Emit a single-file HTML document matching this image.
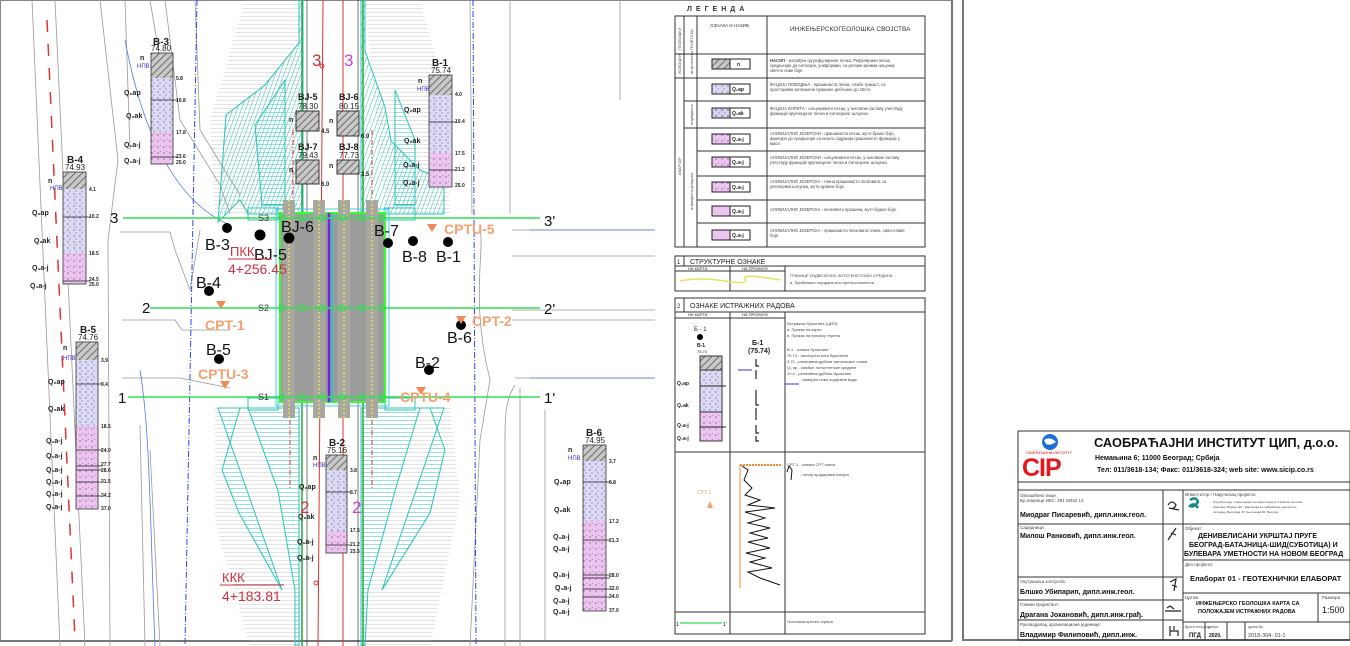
<!DOCTYPE html>
<html><head><meta charset="utf-8"><style>
html,body{margin:0;padding:0;background:#fff;}
svg{display:block;font-family:"Liberation Sans",sans-serif;}
.t{font-family:"Liberation Sans",sans-serif;}
</style></head><body>
<svg width="1350" height="646" viewBox="0 0 1350 646" xmlns="http://www.w3.org/2000/svg">
<defs>
<pattern id="hat" width="5" height="5" patternUnits="userSpaceOnUse" patternTransform="rotate(45)"><rect width="5" height="5" fill="#c8c8c8"/><line x1="0" y1="0" x2="0" y2="5" stroke="#555" stroke-width="1.6"/></pattern>
<pattern id="lav" width="6" height="6" patternUnits="userSpaceOnUse"><rect width="6" height="6" fill="#dcdaf4"/><circle cx="2" cy="2" r="0.6" fill="#446"/><line x1="3" y1="5" x2="5" y2="5" stroke="#668" stroke-width="0.5"/></pattern>
<pattern id="lav2" width="6" height="6" patternUnits="userSpaceOnUse"><rect width="6" height="6" fill="#d4d2f2"/><circle cx="2" cy="2" r="0.7" fill="#446"/><circle cx="5" cy="5" r="0.5" fill="#446"/></pattern>
<pattern id="pnk" width="6" height="6" patternUnits="userSpaceOnUse"><rect width="6" height="6" fill="#ecc4f0"/><circle cx="2" cy="3" r="0.6" fill="#636"/><line x1="4" y1="1" x2="5" y2="2" stroke="#636" stroke-width="0.4"/></pattern>
<pattern id="teal" width="4" height="4" patternUnits="userSpaceOnUse" patternTransform="rotate(20)"><line x1="0" y1="0" x2="0" y2="4" stroke="#2cc3b5" stroke-width="1"/></pattern>
<pattern id="tealh" width="4" height="4" patternUnits="userSpaceOnUse"><line x1="0" y1="0" x2="4" y2="0" stroke="#2cc3b5" stroke-width="1"/></pattern>
<pattern id="grh" width="6" height="4" patternUnits="userSpaceOnUse"><line x1="0" y1="0" x2="6" y2="0" stroke="#aaa" stroke-width="0.7"/></pattern>
</defs>

<rect x="0.5" y="0.5" width="951" height="640" fill="none" stroke="#888" stroke-width="1"/>
<line x1="952" y1="0" x2="952" y2="641" stroke="#777" stroke-width="2"/>
<line x1="963" y1="0" x2="963" y2="641" stroke="#777" stroke-width="2"/>
<line x1="963" y1="640" x2="1350" y2="640" stroke="#777" stroke-width="2"/>
<line x1="0" y1="641" x2="952" y2="641" stroke="#777" stroke-width="2"/>

<g stroke="#999" stroke-width="0.8" fill="none">
<path d="M32 0 L60 646"/><path d="M55 0 L85 646"/>
<path d="M100 0 L118 160 L108 240 L110 646"/>
<path d="M125 0 L130 150"/><path d="M150 0 L160 60"/>
<path d="M165 0 L180 120 L220 185 L230 214"/>
<path d="M195 0 L200 130 L240 195"/>
<path d="M120 232 L170 232 L175 250 L190 290 L200 230"/>
<path d="M122 320 L175 320 L182 330 L230 330"/><path d="M122 378 L180 378 L230 388"/>
<path d="M140 425 L145 646"/><path d="M150 450 L160 646"/>
<path d="M510 0 L510 214"/><path d="M512 230 L655 230"/><path d="M512 256 L655 256"/>
<path d="M512 310 L655 310"/><path d="M512 320 L655 320"/><path d="M515 378 L655 378"/>
<path d="M520 388 L520 646"/><path d="M515 385 C505 400 505 420 505 440 L505 646"/>
<path d="M470 0 L472 214"/><path d="M480 230 C485 250 470 300 490 380 L480 440 L470 646"/>
<path d="M545 410 L545 640"/><path d="M620 0 L620 100"/>
</g>
<g stroke="#5577dd" stroke-width="0.8" fill="none">
<path d="M125 40 C140 120 170 200 230 225"/><path d="M140 370 C150 430 150 520 155 646"/>
<path d="M530 230 L655 230"/><path d="M530 378 L655 378"/>
</g>
<line x1="197" y1="0" x2="185" y2="646" stroke="#3344dd" stroke-width="1" stroke-dasharray="6,2,1,2"/>
<line x1="473" y1="0" x2="476" y2="646" stroke="#3344dd" stroke-width="1" stroke-dasharray="6,2,1,2"/>
<line x1="47" y1="20" x2="75" y2="640" stroke="#d33" stroke-width="1.5" stroke-dasharray="12,12"/>

<polygon points="245,0 300,0 300,214 215,214 210,120" fill="url(#grh)"/>
<polygon points="365,0 420,0 445,90 450,214 385,214" fill="url(#grh)"/>
<polygon points="215,405 300,405 300,646 250,646 215,520" fill="url(#grh)"/>
<polygon points="385,405 450,405 460,500 430,646 365,646" fill="url(#grh)"/>

<g stroke="#2cc3b5" stroke-width="1">
<polygon points="299,0 303,0 303,214 248,214 240,200 218,222 226,115 265,85 299,43" fill="url(#teal)"/>
<polygon points="365,0 361,0 361,214 444,214 444,180 420,170 391,141 385,107 365,51" fill="url(#teal)"/>
<polygon points="218,408 248,408 278,491 295,590 295,646 299,646 299,408 240,408 222,470 239,513 282,590" fill="url(#tealh)"/>
<polygon points="444,408 420,408 395,491 368,590 365,646 361,646 361,408 430,408 445,450 430,513 382,590" fill="url(#tealh)"/>
<polygon points="255,125 285,80 285,205 262,205" fill="url(#tealh)"/>
<polygon points="395,90 415,140 415,205 395,205" fill="url(#tealh)"/>
</g>
<rect x="248" y="208" width="30" height="12" fill="none" stroke="#2cc3b5"/>
<rect x="385" y="208" width="30" height="12" fill="none" stroke="#2cc3b5"/>
<rect x="248" y="398" width="30" height="12" fill="none" stroke="#2cc3b5"/>
<rect x="385" y="398" width="30" height="12" fill="none" stroke="#2cc3b5"/>

<g>
<line x1="302" y1="0" x2="302" y2="646" stroke="#2a4" stroke-width="1.5"/>
<line x1="363" y1="0" x2="363" y2="646" stroke="#2a4" stroke-width="1.5"/>
<line x1="307" y1="0" x2="307" y2="646" stroke="#222" stroke-width="0.6"/>
<line x1="358" y1="0" x2="358" y2="646" stroke="#222" stroke-width="0.6"/>
<line x1="323" y1="0" x2="318" y2="646" stroke="#d33" stroke-width="1"/>
<line x1="343" y1="0" x2="343" y2="646" stroke="#d33" stroke-width="1"/>
<line x1="293" y1="130" x2="293" y2="200" stroke="#d33" stroke-width="1" stroke-dasharray="5,2,1,2"/>
<line x1="372" y1="130" x2="372" y2="200" stroke="#d33" stroke-width="1" stroke-dasharray="5,2,1,2"/>
<line x1="290" y1="420" x2="290" y2="490" stroke="#d33" stroke-width="1" stroke-dasharray="5,2,1,2"/>
<line x1="372" y1="420" x2="372" y2="490" stroke="#d33" stroke-width="1" stroke-dasharray="5,2,1,2"/>
<circle cx="322" cy="66" r="2" fill="none" stroke="#d33"/><circle cx="316" cy="583" r="2" fill="none" stroke="#d33"/>
</g>

<rect x="280" y="213" width="105" height="189" fill="#9c9c9c" stroke="#3f3" stroke-width="2"/>
<rect x="276" y="209" width="113" height="197" fill="none" stroke="#4cd" stroke-width="1"/>
<rect x="283" y="200" width="12" height="218" fill="#a8a8a0"/><rect x="313" y="200" width="12" height="218" fill="#a8a8a0"/>
<rect x="338" y="200" width="12" height="218" fill="#a8a8a0"/><rect x="366" y="200" width="12" height="218" fill="#a8a8a0"/>
<g stroke="#e8d860" stroke-width="1.5" stroke-dasharray="2,2">
<line x1="289" y1="200" x2="289" y2="418"/><line x1="319" y1="200" x2="319" y2="418"/>
<line x1="344" y1="200" x2="344" y2="418"/><line x1="372" y1="200" x2="372" y2="418"/>
</g>
<line x1="280" y1="218" x2="385" y2="218" stroke="#e8c060" stroke-width="1"/>
<line x1="280" y1="397" x2="385" y2="397" stroke="#e8c060" stroke-width="1"/>
<line x1="329" y1="213" x2="329" y2="402" stroke="#7722dd" stroke-width="2.5"/>
<line x1="332" y1="213" x2="332" y2="402" stroke="#1cc" stroke-width="1.5"/>

<g stroke="#3d5" stroke-width="1.6">
<line x1="123" y1="218" x2="540" y2="218"/><line x1="150" y1="308" x2="540" y2="308"/><line x1="128" y1="397" x2="540" y2="397"/>
</g>
<g fill="none" stroke="#3d5" stroke-width="1.2">
<circle cx="282" cy="218" r="3"/><circle cx="302" cy="218" r="3"/><circle cx="322" cy="218" r="3"/><circle cx="342" cy="218" r="3"/><circle cx="362" cy="218" r="3"/><circle cx="382" cy="218" r="3"/>
<circle cx="282" cy="308" r="3"/><circle cx="302" cy="308" r="3"/><circle cx="322" cy="308" r="3"/><circle cx="342" cy="308" r="3"/><circle cx="362" cy="308" r="3"/><circle cx="382" cy="308" r="3"/>
<circle cx="282" cy="397" r="3"/><circle cx="302" cy="397" r="3"/><circle cx="322" cy="397" r="3"/><circle cx="342" cy="397" r="3"/><circle cx="362" cy="397" r="3"/><circle cx="382" cy="397" r="3"/>
</g>
<g class="t" font-size="15" fill="#111">
<text x="110" y="223">3</text><text x="544" y="226">3'</text>
<text x="142" y="313">2</text><text x="544" y="314">2'</text>
<text x="118" y="403">1</text><text x="544" y="403">1'</text>
</g>
<g class="t" font-size="9" fill="#333"><text x="258" y="221">S3</text><text x="258" y="311">S2</text><text x="258" y="400">S1</text></g>

<g fill="#000">
<circle cx="227" cy="228" r="5"/><circle cx="260" cy="235" r="5.5"/><circle cx="289" cy="238" r="5.5"/><circle cx="388" cy="243" r="5"/>
<circle cx="413" cy="241" r="5"/><circle cx="448" cy="242" r="5"/><circle cx="209" cy="291" r="5"/><circle cx="461" cy="325" r="5"/>
<circle cx="219" cy="359" r="5"/><circle cx="429" cy="370" r="5"/>
</g>
<g class="t" font-size="16" fill="#111">
<text x="205" y="250">B-3</text><text x="254" y="260">BJ-5</text><text x="281" y="232">BJ-6</text><text x="374" y="236">B-7</text>
<text x="402" y="262">B-8</text><text x="436" y="262">B-1</text><text x="196" y="288">B-4</text><text x="447" y="343">B-6</text>
<text x="206" y="355">B-5</text><text x="415" y="368">B-2</text>
</g>
<g fill="#f08a55"><polygon points="427,224 437,224 432,232"/><polygon points="216,301 226,301 221,309"/><polygon points="456,316 466,316 461,324"/><polygon points="220,381 230,381 225,389"/><polygon points="416,387 426,387 421,395"/></g>
<g class="t" font-size="14" font-weight="bold" fill="#f4a070">
<text x="444" y="234">CPTU-5</text><text x="205" y="330">CPT-1</text><text x="472" y="326">CPT-2</text><text x="198" y="379">CPTU-3</text><text x="400" y="402">CPTU-4</text>
</g>
<g class="t" fill="#d03040" font-size="13">
<text x="230" y="256">ПКК</text><line x1="228" y1="259" x2="272" y2="259" stroke="#d03040"/><text x="228" y="274" font-size="14">4+256.45</text>
<text x="222" y="582">ККК</text><line x1="220" y1="585" x2="284" y2="585" stroke="#d03040"/><text x="222" y="601" font-size="14">4+183.81</text>
<text x="312" y="66" font-size="17">3</text><text x="300" y="513" font-size="17">2</text>
</g>
<g class="t" fill="#d040d0" font-size="17"><text x="344" y="66">3</text><text x="352" y="513">2</text></g>

<g class="t" font-size="9" font-weight="bold" fill="#222">
<text x="298" y="100">BJ-5</text><text x="298" y="109" font-size="8" font-weight="normal">78.30</text>
<rect x="296" y="111" width="23" height="20" fill="url(#hat)" stroke="#333"/><text x="289" y="122" font-size="7">n</text><text x="321" y="133" font-size="6">4.5</text>
<text x="339" y="100">BJ-6</text><text x="339" y="109" font-size="8" font-weight="normal">80.15</text>
<rect x="337" y="111" width="22" height="25" fill="url(#hat)" stroke="#333"/><text x="329" y="123" font-size="7">n</text><text x="361" y="138" font-size="6">6.0</text>
<text x="298" y="150">BJ-7</text><text x="298" y="158" font-size="8" font-weight="normal">79.43</text>
<rect x="296" y="160" width="23" height="24" fill="url(#hat)" stroke="#333"/><text x="289" y="172" font-size="7">n</text><text x="321" y="186" font-size="6">6.0</text>
<text x="339" y="150">BJ-8</text><text x="339" y="158" font-size="8" font-weight="normal">77.73</text>
<rect x="337" y="160" width="22" height="14" fill="url(#hat)" stroke="#333"/><text x="329" y="168" font-size="7">n</text><text x="361" y="176" font-size="6">3.5</text>
</g>

<g class="t" font-size="7" font-weight="bold" fill="#222" stroke-width="0.8">
<text x="153" y="45" font-size="10">B-3</text><text x="151" y="51" font-size="8" font-weight="normal">74.80</text>
<rect x="151" y="53" width="22" height="25" fill="url(#hat)"/><rect x="151" y="78" width="22" height="54" fill="url(#lav)"/><rect x="151" y="132" width="22" height="32" fill="url(#pnk)"/>
<rect x="151" y="53" width="22" height="111" fill="none" stroke="#333"/><line x1="151" y1="100" x2="178" y2="100" stroke="#222"/><line x1="151" y1="157" x2="178" y2="157" stroke="#222"/>
<text x="176" y="80" font-size="5">5.8</text><text x="176" y="102" font-size="5">10.8</text><text x="176" y="134" font-size="5">17.8</text><text x="176" y="158" font-size="5">23.6</text><text x="176" y="164" font-size="5">25.0</text>
<text x="140" y="60">n</text><text x="124" y="95">Q₂ap</text><text x="126" y="118">Q₂ak</text><text x="124" y="147">Q₁a-j</text><text x="124" y="163">Q₁a-j</text>
<text x="432" y="66" font-size="10">B-1</text><text x="431" y="73" font-size="8" font-weight="normal">75.74</text>
<rect x="429" y="75" width="23" height="20" fill="url(#hat)"/><rect x="429" y="95" width="23" height="58" fill="url(#lav)"/><rect x="429" y="153" width="23" height="34" fill="url(#pnk)"/>
<rect x="429" y="75" width="23" height="112" fill="none" stroke="#333"/><line x1="429" y1="122" x2="456" y2="122" stroke="#222"/><line x1="429" y1="170" x2="456" y2="170" stroke="#222"/>
<text x="455" y="96" font-size="5">4.0</text><text x="455" y="123" font-size="5">10.4</text><text x="455" y="155" font-size="5">17.5</text><text x="455" y="171" font-size="5">21.2</text><text x="455" y="187" font-size="5">25.0</text>
<text x="418" y="83">n</text><text x="404" y="112">Q₂ap</text><text x="404" y="143">Q₂ak</text><text x="403" y="167">Q₁a-j</text><text x="403" y="185">Q₁a-j</text>
<text x="67" y="163" font-size="10">B-4</text><text x="65" y="170" font-size="8" font-weight="normal">74.93</text>
<rect x="63" y="172" width="23" height="17" fill="url(#hat)"/><rect x="63" y="189" width="23" height="64" fill="url(#lav)"/><rect x="63" y="253" width="23" height="31" fill="url(#pnk)"/>
<rect x="63" y="172" width="23" height="112" fill="none" stroke="#333"/><line x1="63" y1="217" x2="90" y2="217" stroke="#222"/><line x1="63" y1="281" x2="90" y2="281" stroke="#222"/>
<text x="89" y="191" font-size="5">4.1</text><text x="89" y="218" font-size="5">10.2</text><text x="89" y="255" font-size="5">18.5</text><text x="89" y="281" font-size="5">24.5</text><text x="89" y="286" font-size="5">25.0</text>
<text x="48" y="183">n</text><text x="32" y="215">Q₂ap</text><text x="34" y="243">Q₂ak</text><text x="32" y="270">Q₁a-j</text><text x="30" y="288">Q₁a-j</text>
<text x="80" y="333" font-size="10">B-5</text><text x="78" y="340" font-size="8" font-weight="normal">74.76</text>
<rect x="76" y="342" width="22" height="18" fill="url(#hat)"/><rect x="76" y="360" width="22" height="66" fill="url(#lav)"/><rect x="76" y="426" width="22" height="83" fill="url(#pnk)"/>
<rect x="76" y="342" width="22" height="167" fill="none" stroke="#333"/>
<line x1="76" y1="384" x2="102" y2="384" stroke="#222"/><line x1="76" y1="450" x2="102" y2="450" stroke="#222"/><line x1="76" y1="466" x2="102" y2="466" stroke="#222"/><line x1="76" y1="470" x2="102" y2="470" stroke="#222"/><line x1="76" y1="482" x2="102" y2="482" stroke="#222"/><line x1="76" y1="496" x2="102" y2="496" stroke="#222"/>
<text x="101" y="362" font-size="5">3.9</text><text x="101" y="386" font-size="5">9.4</text><text x="101" y="428" font-size="5">18.5</text><text x="101" y="452" font-size="5">24.0</text><text x="101" y="466" font-size="5">27.7</text><text x="101" y="472" font-size="5">28.6</text><text x="101" y="483" font-size="5">31.5</text><text x="101" y="497" font-size="5">34.2</text><text x="101" y="510" font-size="5">37.0</text>
<text x="63" y="350">n</text><text x="48" y="384">Q₂ap</text><text x="48" y="411">Q₂ak</text><text x="46" y="443">Q₁a-j</text><text x="46" y="458">Q₁a-j</text><text x="46" y="472">Q₁a-j</text><text x="46" y="484">Q₁a-j</text><text x="46" y="496">Q₁a-j</text><text x="46" y="509">Q₁a-j</text>
<text x="329" y="446" font-size="10">B-2</text><text x="327" y="453" font-size="8" font-weight="normal">75.16</text>
<rect x="326" y="455" width="21" height="15" fill="url(#hat)"/><rect x="326" y="470" width="21" height="61" fill="url(#lav)"/><rect x="326" y="531" width="21" height="22" fill="url(#pnk)"/>
<rect x="326" y="455" width="21" height="98" fill="none" stroke="#333"/><line x1="326" y1="492" x2="350" y2="492" stroke="#222"/><line x1="326" y1="545" x2="350" y2="545" stroke="#222"/>
<text x="350" y="472" font-size="5">3.8</text><text x="350" y="494" font-size="5">8.7</text><text x="350" y="532" font-size="5">17.5</text><text x="350" y="546" font-size="5">21.2</text><text x="350" y="553" font-size="5">23.5</text>
<text x="313" y="460">n</text><text x="299" y="489">Q₂ap</text><text x="298" y="519">Q₂ak</text><text x="297" y="544">Q₁a-j</text><text x="297" y="560">Q₁a-j</text>
<text x="586" y="436" font-size="10">B-6</text><text x="585" y="443" font-size="8" font-weight="normal">74.95</text>
<rect x="583" y="445" width="23" height="16" fill="url(#hat)"/><rect x="583" y="461" width="23" height="60" fill="url(#lav)"/><rect x="583" y="521" width="23" height="90" fill="url(#pnk)"/>
<rect x="583" y="445" width="23" height="166" fill="none" stroke="#333"/>
<line x1="583" y1="482" x2="610" y2="482" stroke="#222"/><line x1="583" y1="540" x2="610" y2="540" stroke="#222"/><line x1="583" y1="575" x2="610" y2="575" stroke="#222"/><line x1="583" y1="578" x2="610" y2="578" stroke="#222"/><line x1="583" y1="589" x2="610" y2="589" stroke="#222"/><line x1="583" y1="597" x2="610" y2="597" stroke="#222"/>
<text x="609" y="463" font-size="5">3.7</text><text x="609" y="484" font-size="5">8.8</text><text x="609" y="523" font-size="5">17.2</text><text x="609" y="542" font-size="5">21.3</text><text x="609" y="577" font-size="5">28.0</text><text x="609" y="590" font-size="5">32.0</text><text x="609" y="598" font-size="5">34.0</text><text x="609" y="612" font-size="5">37.0</text>
<text x="568" y="452">n</text><text x="554" y="484">Q₂ap</text><text x="554" y="512">Q₂ak</text><text x="553" y="539">Q₁a-j</text><text x="553" y="551">Q₁a-j</text><text x="553" y="577">Q₁a-j</text><text x="555" y="590">Q₁a-j</text><text x="553" y="603">Q₁a-j</text><text x="553" y="614">Q₁a-j</text>
</g>
<g class="t" font-size="6" fill="#33c"><text x="137" y="68">НПВ</text><text x="417" y="91">НПВ</text><text x="50" y="190">НПВ</text><text x="63" y="360">НПВ</text><text x="313" y="467">НПВ</text><text x="568" y="460">НПВ</text></g>

<text x="687" y="11" class="t" font-size="7" letter-spacing="4" font-weight="bold" fill="#333">ЛЕГЕНДА</text>
<g stroke="#333" stroke-width="1" fill="none">
<rect x="675" y="16" width="250" height="231"/>
<line x1="684" y1="16" x2="684" y2="247"/><line x1="697" y1="16" x2="697" y2="247"/><line x1="767" y1="16" x2="767" y2="247"/>
<line x1="675" y1="54" x2="925" y2="54"/><line x1="675" y1="78" x2="925" y2="78"/>
<line x1="684" y1="101" x2="925" y2="101"/><line x1="684" y1="128" x2="925" y2="128"/>
<line x1="697" y1="151" x2="925" y2="151"/><line x1="697" y1="176" x2="925" y2="176"/><line x1="697" y1="200" x2="925" y2="200"/><line x1="697" y1="223" x2="925" y2="223"/>
</g>
<g class="t" font-size="4.5" fill="#333">
<text x="710" y="27">ОЗНАКА И НАЗИВ</text>
<text x="790" y="31" font-size="6.5">ИНЖЕЊЕРСКОГЕОЛОШКА СВОЈСТВА</text>
</g>
<g stroke="#222" stroke-width="1">
<rect x="712" y="59" width="18" height="10" fill="url(#hat)"/><rect x="730" y="59" width="20" height="10" fill="#fff"/>
<rect x="712" y="84" width="18" height="10" fill="url(#lav)"/><rect x="730" y="84" width="20" height="10" fill="#fff"/>
<rect x="712" y="108" width="18" height="10" fill="url(#lav2)"/><rect x="730" y="108" width="20" height="10" fill="#fff"/>
<rect x="712" y="134" width="18" height="10" fill="url(#pnk)"/><rect x="730" y="134" width="20" height="10" fill="#fff"/>
<rect x="712" y="157" width="18" height="10" fill="url(#pnk)"/><rect x="730" y="157" width="20" height="10" fill="#fff"/>
<rect x="712" y="182" width="18" height="10" fill="url(#pnk)"/><rect x="730" y="182" width="20" height="10" fill="#fff"/>
<rect x="712" y="206" width="18" height="10" fill="#ecc4f0"/><rect x="730" y="206" width="20" height="10" fill="#fff"/>
<rect x="712" y="230" width="18" height="10" fill="#ecc4f0"/><rect x="730" y="230" width="20" height="10" fill="#fff"/>
</g>
<g class="t" font-size="5" font-weight="bold" fill="#222">
<text x="737" y="66">n</text><text x="732" y="91">Q₂ap</text><text x="732" y="115">Q₂ak</text><text x="732" y="141">Q₁a-j</text><text x="732" y="164">Q₁a-j</text><text x="732" y="189">Q₁a-j</text><text x="732" y="213">Q₁a-j</text><text x="732" y="237">Q₁a-j</text>
</g>
<g class="t" font-size="4.2" fill="#444">
<text x="770" y="62"><tspan font-weight="bold">НАСИП</tspan> - изграђен од рефулираног песка. Рефулирани песак,</text>
<text x="770" y="67">средњезрн до ситнозрн, униформан, са ретким зрнима шљунка,</text><text x="770" y="72">светло сиве боје.</text>
<text x="770" y="86">ФАЦИЈА ПОВОДЊА - прашинасти песак, слабо тракаст, са</text><text x="770" y="91">просторима заглињене прашине дебљине до 10cm.</text>
<text x="770" y="110">ФАЦИЈА КОРИТА - шљунковити песак, у његовом саставу учествују</text><text x="770" y="115">фракције крупнозрног песка и ситнозрног шљунка.</text>
<text x="770" y="135">АЛУВИЈАЛНО ЈЕЗЕРСКИ - прашинасти песак, жуто-браон боје,</text><text x="770" y="140">финозрн до средњезрн са нешто садржаја прашинасте фракције у</text><text x="770" y="145">маси.</text>
<text x="770" y="159">АЛУВИЈАЛНО ЈЕЗЕРСКИ - шљунковити песак, у његовом саставу</text><text x="770" y="164">учествују фракције крупнозрног песка и ситнозрног шљунка.</text>
<text x="770" y="183">АЛУВИЈАЛНО ЈЕЗЕРСКА - глина прашинасто песковита са</text><text x="770" y="188">уклопцима шљунка, жуто-црвене боје.</text>
<text x="770" y="211">АЛУВИЈАЛНО ЈЕЗЕРСКА - песковита прашина, жуто-браон боје.</text>
<text x="770" y="232">АЛУВИЈАЛНО ЈЕЗЕРСКА - прашинасто песковита глина, сиво-плаве</text><text x="770" y="237">боје.</text>
</g>
<g class="t" font-size="4" fill="#444" transform="rotate(-90)">
<text x="-50" y="681">ГЕОЛОШКИ</text><text x="-50" y="693">ГЕНЕТСКА</text>
<text x="-74" y="681">ХОЛОЦЕН</text><text x="-74" y="693">антропогено</text>
<text x="-175" y="681">КВАРТАР</text><text x="-125" y="693">алувијално</text><text x="-210" y="693">алувијално-језерско</text>
</g>

<g stroke="#333" fill="none">
<rect x="675" y="256" width="250" height="35"/><line x1="675" y1="266" x2="925" y2="266"/>
<line x1="684" y1="256" x2="684" y2="266"/><line x1="730" y1="266" x2="730" y2="291"/><line x1="785" y1="266" x2="785" y2="291"/>
<line x1="675" y1="271" x2="785" y2="271"/>
</g>
<path d="M680 281 Q700 277 725 281 T745 279 T780 280" stroke="#e8e060" stroke-width="1.5" fill="none"/>
<g class="t" fill="#222">
<text x="677" y="264" font-size="6">1</text><text x="690" y="264" font-size="7">СТРУКТУРНЕ ОЗНАКЕ</text>
<text x="688" y="270" font-size="4">НА КАРТИ</text><text x="742" y="270" font-size="4">НА ПРОФИЛУ</text>
<text x="790" y="277" font-size="4" fill="#444">ГРАНИЦЕ ИЗДВОЈЕНИХ ЛИТОГЕНЕТСКИХ СРЕДИНА</text>
<text x="790" y="284" font-size="4" fill="#444">a. Приближно поуздана или претпостављена</text>
</g>

<g stroke="#333" fill="none">
<rect x="675" y="298" width="250" height="336"/><line x1="675" y1="312" x2="925" y2="312"/>
<line x1="684" y1="298" x2="684" y2="312"/><line x1="730" y1="312" x2="730" y2="634"/><line x1="785" y1="312" x2="785" y2="634"/>
<line x1="675" y1="318" x2="785" y2="318"/><line x1="675" y1="452" x2="925" y2="452"/><line x1="675" y1="612" x2="925" y2="612"/>
</g>
<g class="t" fill="#222">
<text x="677" y="308" font-size="6">2</text><text x="690" y="308" font-size="7">ОЗНАКЕ ИСТРАЖНИХ РАДОВА</text>
<text x="688" y="316" font-size="4">НА КАРТИ</text><text x="742" y="316" font-size="4">НА ПРОФИЛУ</text>
<text x="694" y="331" font-size="6">Б - 1</text><circle cx="700" cy="337" r="3" fill="#000"/>
<text x="697" y="347" font-size="5" font-weight="bold">B-1</text><text x="697" y="353" font-size="4">75.74</text>
<text x="752" y="345" font-size="7" font-weight="bold">Б-1</text><text x="748" y="353" font-size="7" font-weight="bold">(75.74)</text>
<text x="787" y="325" font-size="4" fill="#444">Истражна бушотина (ЦИП):</text>
<text x="787" y="331" font-size="4" fill="#444">a. Приказ на карти</text><text x="787" y="337" font-size="4" fill="#444">b. Приказ на пресеку терена</text>
<text x="787" y="351" font-size="4" fill="#444">B-1      - ознака бушотине</text><text x="787" y="357" font-size="4" fill="#444">75.74   - апсолутна кота бушотине</text>
<text x="787" y="363" font-size="4" fill="#444">3.70    - релативна дубина литолошког члана</text><text x="787" y="369" font-size="4" fill="#444">Q₂ ap   - симбол литогенетске средине</text>
<text x="787" y="375" font-size="4" fill="#444">10.4    - релативна дубина бушотине</text><text x="800" y="381" font-size="4" fill="#444">- измерен ниво подземне воде</text>
<text x="787" y="466" font-size="4" fill="#444">CPT-1  - ознака CPT опита</text><text x="800" y="476" font-size="4" fill="#444">- отпор продирања конуса</text>
<text x="787" y="623" font-size="4" fill="#444">Геолошки пресек терена</text>
<text x="697" y="494" font-size="5" fill="#f4a070">CPT-1</text>
</g>
<rect x="700" y="356" width="22" height="14" fill="url(#hat)" stroke="#333"/>
<rect x="700" y="370" width="22" height="42" fill="url(#lav)" stroke="#333"/>
<rect x="700" y="412" width="22" height="29" fill="url(#pnk)" stroke="#333"/>
<line x1="700" y1="386" x2="726" y2="386" stroke="#222"/><line x1="700" y1="427" x2="726" y2="427" stroke="#222"/>
<g class="t" font-size="5" font-weight="bold" fill="#222"><text x="677" y="385">Q₂ap</text><text x="677" y="407">Q₂ak</text><text x="677" y="427">Q₁a-j</text><text x="677" y="440">Q₁a-j</text></g>
<g stroke="#222" stroke-width="1.2" fill="none">
<path d="M756 359 L756 366 L759 366"/><path d="M756 370 L756 379"/><path d="M756 390 L756 405 L759 405"/><path d="M756 408 L756 420"/><path d="M756 425 L756 433 L759 433"/><path d="M756 436 L756 441 L759 441"/>
</g>
<line x1="738" y1="370" x2="752" y2="370" stroke="#33c"/><line x1="785" y1="384" x2="799" y2="384" stroke="#33c"/>
<polygon points="707,508 713,508 710,501" fill="#f4a070"/>
<line x1="740" y1="465" x2="740" y2="588" stroke="#f08a30"/><line x1="740" y1="465" x2="782" y2="465" stroke="#f08a30" stroke-width="2" stroke-dasharray="2,1"/>
<path d="M742 466 L748 470 L744 480 L752 488 L745 495 L760 500 L748 505 L775 508 L745 512 L765 518 L748 523 L770 528 L750 533 L768 538 L748 542 L770 548 L746 553 L765 558 L750 562 L772 568 L748 572 L760 578 L780 585" fill="none" stroke="#111" stroke-width="1"/>
<line x1="680" y1="623" x2="722" y2="623" stroke="#3d5" stroke-width="1.2"/>
<text x="676" y="626" class="t" font-size="5">1</text><text x="723" y="626" class="t" font-size="5">1'</text>
<path d="M787 472 L789 466 L792 470 L791 480" fill="none" stroke="#111"/>

<g stroke="#333" stroke-width="1" fill="none">
<rect x="1018" y="431" width="332" height="209"/>
<line x1="1018" y1="482" x2="1350" y2="482"/><line x1="1018" y1="490" x2="1350" y2="490"/>
<line x1="1163" y1="490" x2="1163" y2="640"/><line x1="1183" y1="490" x2="1183" y2="640"/>
<line x1="1018" y1="524" x2="1183" y2="524"/><line x1="1018" y1="577" x2="1183" y2="577"/><line x1="1018" y1="600" x2="1183" y2="600"/><line x1="1018" y1="620" x2="1183" y2="620"/>
<line x1="1183" y1="524" x2="1350" y2="524"/><line x1="1183" y1="560" x2="1350" y2="560"/><line x1="1183" y1="593" x2="1350" y2="593"/><line x1="1183" y1="622" x2="1350" y2="622"/>
<line x1="1318" y1="593" x2="1318" y2="622"/><line x1="1205" y1="622" x2="1205" y2="640"/><line x1="1227" y1="622" x2="1227" y2="640"/><line x1="1245" y1="622" x2="1245" y2="640"/>
</g>
<circle cx="1050" cy="442" r="8" fill="#1e6ed8"/><path d="M1044 440 Q1050 436 1056 442 Q1050 446 1046 444Z" fill="#fff"/>
<text x="1026" y="454" class="t" font-size="3.5" fill="#d00">САОБРАЋАЈНИ ИНСТИТУТ</text>
<text x="1022" y="476" class="t" font-size="25" font-weight="bold" fill="#e8161e" letter-spacing="-1">CIP</text>
<g class="t" fill="#111">
<text x="1094" y="447" font-size="12.8" font-weight="bold">САОБРАЋАЈНИ ИНСТИТУТ ЦИП, д.о.о.</text>
<text x="1095" y="460" font-size="7" font-weight="bold">Немањина 6; 11000 Београд; Србија</text>
<text x="1097" y="472" font-size="7" font-weight="bold">Тел: 011/3618-134; Факс: 011/3618-324;  web site: www.sicip.co.rs</text>
<text x="1020" y="497" font-size="4.5" fill="#444">Овлашћено лице :</text><text x="1020" y="502" font-size="4.5" fill="#444">Бр.лиценце ИКС: 391 M042 13</text>
<text x="1020" y="517" font-size="7" font-weight="bold">Миодраг Писаревић, дипл.инж.геол.</text>
<text x="1020" y="529" font-size="4.5" fill="#444">Сарадници:</text><text x="1020" y="538" font-size="7" font-weight="bold">Милош Ранковић, дипл.инж.геол.</text>
<text x="1020" y="583" font-size="4.5" fill="#444">Унутрашња контрола:</text><text x="1020" y="594" font-size="7" font-weight="bold">Блшко Убипарип, дипл.инж.геол.</text>
<text x="1020" y="606" font-size="4.5" fill="#444">Главни пројектант:</text><text x="1020" y="617" font-size="7" font-weight="bold">Драгана Јокановић, дипл.инж.грађ.</text>
<text x="1020" y="626" font-size="4.5" fill="#444">Руководилац организационе јединице:</text><text x="1020" y="637" font-size="7" font-weight="bold">Владимир Филиповић, дипл.инж.</text>
<text x="1185" y="496" font-size="4.5" fill="#444">Инвеститор / Наручилац пројекта:</text>
<text x="1213" y="503" font-size="3" fill="#444">Град Београд, Секретаријат за инвестиције и стамбене послове</text>
<text x="1213" y="508" font-size="3" fill="#444">Краљице Марије 11ІІ - Дирекција за грађевинско земљиште</text>
<text x="1213" y="513" font-size="3" fill="#444">изградњу Београда ЈП, Његошева 84, Београд</text>
<text x="1185" y="530" font-size="4.5" fill="#444">Објекат:</text>
<text x="1198" y="538" font-size="7" font-weight="bold">ДЕНИВЕЛИСАНИ УКРШТАЈ ПРУГЕ</text>
<text x="1189" y="547" font-size="7" font-weight="bold">БЕОГРАД-БАТАЈНИЦА-ШИД(СУБОТИЦА) И</text>
<text x="1184" y="556" font-size="7" font-weight="bold">БУЛЕВАРА УМЕТНОСТИ НА НОВОМ БЕОГРАД</text>
<text x="1185" y="566" font-size="4.5" fill="#444">Део пројекта:</text>
<text x="1190" y="581" font-size="7.5" font-weight="bold">Елаборат 01 - ГЕОТЕХНИЧКИ ЕЛАБОРАТ</text>
<text x="1185" y="599" font-size="4.5" fill="#444">Цртеж:</text>
<text x="1196" y="605" font-size="5.5" font-weight="bold">ИНЖЕЊЕРСКО ГЕОЛОШКА КАРТА СА</text>
<text x="1198" y="613" font-size="5.5" font-weight="bold">ПОЛОЖАЈЕМ ИСТРАЖНИХ РАДОВА</text>
<text x="1322" y="599" font-size="4.5" fill="#444">Размера</text><text x="1322" y="613" font-size="9">1:500</text>
<text x="1185" y="628" font-size="3.5" fill="#444">Врста техн.док.</text><text x="1189" y="637" font-size="6" font-weight="bold">ПГД</text>
<text x="1208" y="628" font-size="3.5" fill="#444">датум:</text><text x="1209" y="637" font-size="5" font-weight="bold">2020.</text>
<text x="1248" y="628" font-size="3.5" fill="#444">цртеж бр.</text><text x="1248" y="637" font-size="5.5" fill="#444">2018-304-   01-1</text>
</g>
<path d="M1190 500 q6 -4 8 2 q-4 6 -8 4 q4 -4 8 2" stroke="#1a8a8a" stroke-width="2.5" fill="none"/>
<g stroke="#222" stroke-width="1.2" fill="none">
<path d="M1168 505 q4 -6 8 0 q-2 5 -7 3 l10 2"/><path d="M1168 540 l8 -12 m-5 5 l5 2"/><path d="M1170 582 l6 -3 l-2 12 m-2 -6 l5 2"/>
<path d="M1165 611 l16 0 m-14 -3 l3 -2 l4 3"/><path d="M1170 626 l0 10 m0 -5 l8 0 l0 5 m-4 -10 l0 4"/>
</g>
</svg>
</body></html>
